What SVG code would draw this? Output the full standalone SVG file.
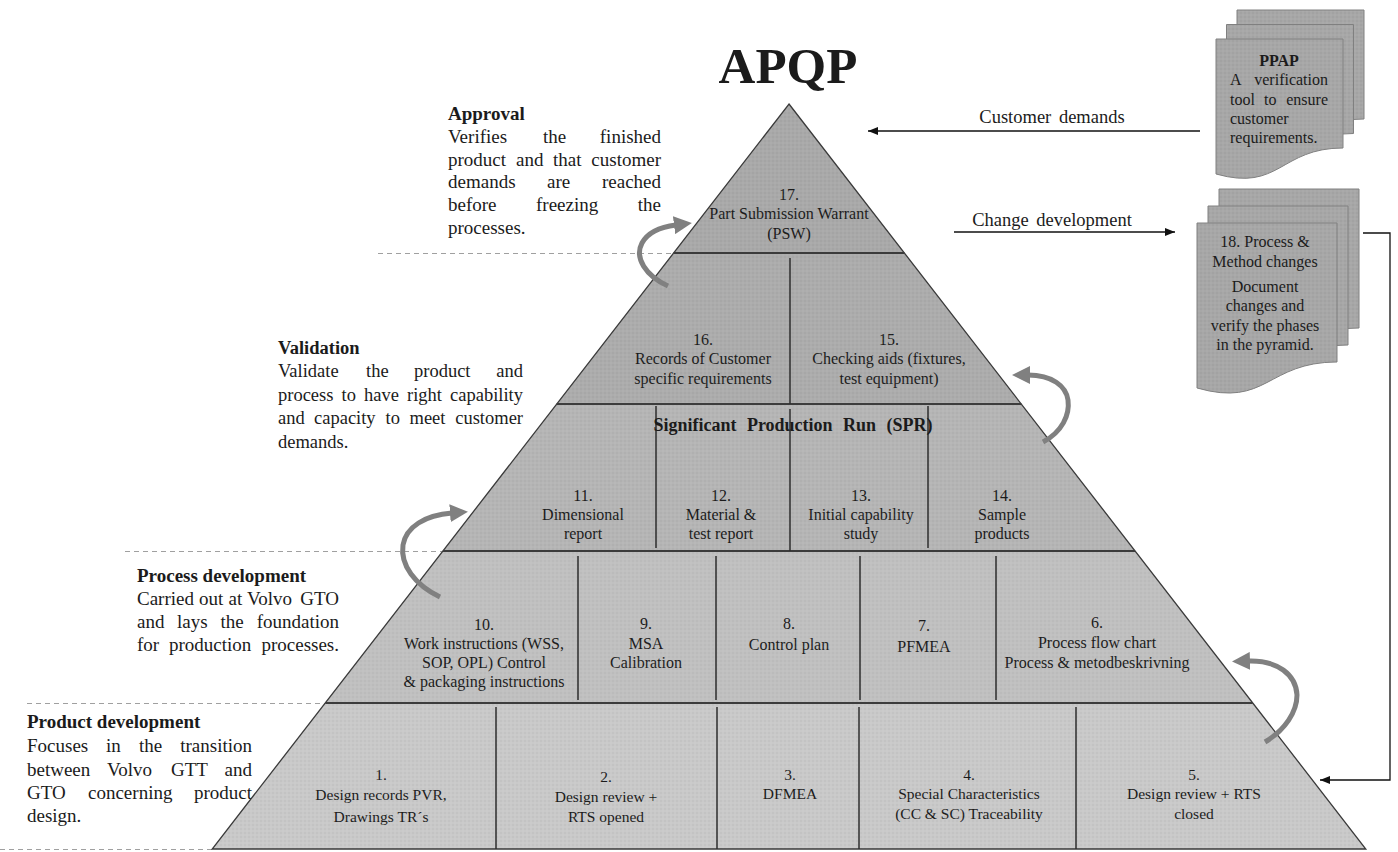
<svg xmlns="http://www.w3.org/2000/svg" width="1398" height="852" viewBox="0 0 1398 852">
  <defs>
    <style>
      .t { font-family: "Liberation Serif", "Times New Roman", serif; fill: #1b1b1b; }
      .cell { font-size: 16px; text-anchor: middle; }
      .cellS { font-size: 15.5px; text-anchor: middle; }
      .body { font-size: 19px; }
      .bodyV { font-size: 18.5px; }
      .head { font-size: 19px; font-weight: bold; }
      .end { text-anchor: end; }
      .mid { text-anchor: middle; }
      .doc { font-size: 16px; }
      .lbl { font-size: 18.5px; text-anchor: middle; word-spacing: 3px; }
      .r1 { fill: #a9a9a9; }
      .r2 { fill: #acacac; }
      .r3 { fill: #b5b5b5; }
      .r4 { fill: #c0c0c0; }
      .r5 { fill: #c9c9c9; }
      .page { fill: url(#pageFill); stroke: #808080; stroke-width: 1; }
      .guide { stroke: #a0a0a0; stroke-width: 1; stroke-dasharray: 5 4; fill: none; }
      .rowline { stroke: #3c3c3c; stroke-width: 2; }
      .divider { stroke: #2e2e2e; stroke-width: 1.5; }
      .loop { fill: none; stroke: #808080; stroke-width: 5; marker-end: url(#loopHead); }
      .flow { fill: none; stroke: #111; stroke-width: 1.3; marker-end: url(#flowHead); }
    </style>
    <!-- fine woven grain used on the shaded fills -->
    <pattern id="grain" width="4" height="4" patternUnits="userSpaceOnUse">
      <circle cx="1" cy="1" r="0.7" fill="#000" opacity="0.07"/>
      <circle cx="3" cy="3" r="0.7" fill="#fff" opacity="0.09"/>
    </pattern>
    <pattern id="pageFill" width="4" height="4" patternUnits="userSpaceOnUse">
      <rect width="4" height="4" fill="#a7a7a7"/>
      <circle cx="1" cy="1" r="0.7" fill="#000" opacity="0.07"/>
      <circle cx="3" cy="3" r="0.7" fill="#fff" opacity="0.09"/>
    </pattern>
    <marker id="loopHead" markerUnits="userSpaceOnUse" viewBox="0 0 18 18" markerWidth="18" markerHeight="18" refX="2" refY="9" orient="auto">
      <path d="M0,0 L18,9 L0,18 Z" fill="#808080"/>
    </marker>
    <marker id="flowHead" markerUnits="userSpaceOnUse" viewBox="0 0 10 8" markerWidth="10" markerHeight="8" refX="10" refY="4" orient="auto">
      <path d="M0,0 L10,4 L0,8 Z" fill="#111"/>
    </marker>
  </defs>

  <rect width="1398" height="852" fill="#ffffff"/>

  <!-- phase separators -->
  <g id="guides">
    <path class="guide" d="M378,253.5 H673"/>
    <path class="guide" d="M125,551.5 H443"/>
    <path class="guide" d="M27,703.5 H325"/>
    <path class="guide" d="M0,849.5 H212"/>
  </g>

  <g id="title">
    <text class="t mid" x="788" y="83" font-size="51" font-weight="bold" fill="#000">APQP</text>
  </g>

  <!-- phase descriptions -->
  <g id="phase-approval" class="t body">
    <text class="head" x="448" y="120">Approval</text>
    <text y="143"><tspan x="448">Verifies</tspan><tspan x="543">the</tspan><tspan x="661" class="end">finished</tspan></text>
    <text y="166"><tspan x="448">product</tspan><tspan x="516">and</tspan><tspan x="553">that</tspan><tspan x="661" class="end">customer</tspan></text>
    <text y="188"><tspan x="448">demands</tspan><tspan x="547">are</tspan><tspan x="661" class="end">reached</tspan></text>
    <text y="211"><tspan x="448">before</tspan><tspan x="536">freezing</tspan><tspan x="661" class="end">the</tspan></text>
    <text x="448" y="234">processes.</text>
  </g>

  <g id="phase-validation" class="t bodyV">
    <text x="278" y="354" font-weight="bold">Validation</text>
    <text y="377"><tspan x="278">Validate</tspan><tspan x="366">the</tspan><tspan x="414">product</tspan><tspan x="523" class="end">and</tspan></text>
    <text y="401"><tspan x="278">process</tspan><tspan x="341.6">to</tspan><tspan x="364">have</tspan><tspan x="407">right</tspan><tspan x="523" class="end">capability</tspan></text>
    <text y="424"><tspan x="278">and</tspan><tspan x="314">capacity</tspan><tspan x="385.5">to</tspan><tspan x="409.5">meet</tspan><tspan x="523" class="end">customer</tspan></text>
    <text x="278" y="448">demands.</text>
  </g>

  <g id="phase-process" class="t body">
    <text class="head" x="137" y="582">Process development</text>
    <text y="605"><tspan x="137">Carried</tspan><tspan x="199">out</tspan><tspan x="228.5">at</tspan><tspan x="247">Volvo</tspan><tspan x="339" class="end">GTO</tspan></text>
    <text y="628"><tspan x="137">and</tspan><tspan x="177">lays</tspan><tspan x="220.5">the</tspan><tspan x="339" class="end">foundation</tspan></text>
    <text y="651"><tspan x="137">for</tspan><tspan x="169">production</tspan><tspan x="339" class="end">processes.</tspan></text>
  </g>

  <g id="phase-product" class="t body">
    <text class="head" x="27" y="728">Product development</text>
    <text y="752"><tspan x="27">Focuses</tspan><tspan x="106">in</tspan><tspan x="139">the</tspan><tspan x="252" class="end">transition</tspan></text>
    <text y="776"><tspan x="27">between</tspan><tspan x="107">Volvo</tspan><tspan x="171">GTT</tspan><tspan x="252" class="end">and</tspan></text>
    <text y="799"><tspan x="27">GTO</tspan><tspan x="88">concerning</tspan><tspan x="252" class="end">product</tspan></text>
    <text x="27" y="822">design.</text>
  </g>

  <!-- pyramid cells -->
  <g id="pyramid">
    <g id="step-17">
      <polygon class="r1" points="789,104 904.4,253 673.6,253"/>
      <text class="t cell"><tspan x="789" y="200">17.</tspan><tspan x="789" y="219">Part Submission Warrant</tspan><tspan x="789" y="239">(PSW)</tspan></text>
    </g>
    <g id="step-16">
      <polygon class="r2" points="673.6,253 790,253 790,404 556.7,404"/>
      <text class="t cell"><tspan x="703" y="345">16.</tspan><tspan x="703" y="364">Records of Customer</tspan><tspan x="703" y="384">specific requirements</tspan></text>
    </g>
    <g id="step-15">
      <polygon class="r2" points="790,253 904.4,253 1021.3,404 790,404"/>
      <text class="t cell"><tspan x="889" y="345">15.</tspan><tspan x="889" y="364">Checking aids (fixtures,</tspan><tspan x="889" y="384">test equipment)</tspan></text>
    </g>
    <g id="step-11">
      <polygon class="r3" points="556.7,404 656,404 656,551 442.9,551"/>
      <text class="t cell"><tspan x="583" y="501">11.</tspan><tspan x="583" y="520">Dimensional</tspan><tspan x="583" y="539">report</tspan></text>
    </g>
    <g id="step-12">
      <polygon class="r3" points="656,404 790,404 790,551 656,551"/>
      <text class="t cell"><tspan x="721" y="501">12.</tspan><tspan x="721" y="520">Material &amp;</tspan><tspan x="721" y="539">test report</tspan></text>
    </g>
    <g id="step-13">
      <polygon class="r3" points="790,404 928,404 928,551 790,551"/>
      <text class="t cell"><tspan x="861" y="501">13.</tspan><tspan x="861" y="520">Initial capability</tspan><tspan x="861" y="539">study</tspan></text>
    </g>
    <g id="step-14">
      <polygon class="r3" points="928,404 1021.3,404 1135.1,551 928,551"/>
      <text class="t cell"><tspan x="1002" y="501">14.</tspan><tspan x="1002" y="520">Sample</tspan><tspan x="1002" y="539">products</tspan></text>
    </g>
    <g id="step-10">
      <polygon class="r4" points="442.9,551 578,551 578,703 325.3,703"/>
      <text class="t cell"><tspan x="484" y="630">10.</tspan><tspan x="484" y="649">Work instructions (WSS,</tspan><tspan x="484" y="668">SOP, OPL) Control</tspan><tspan x="484" y="687">&amp; packaging instructions</tspan></text>
    </g>
    <g id="step-9">
      <polygon class="r4" points="578,551 716,551 716,703 578,703"/>
      <text class="t cell"><tspan x="646" y="629">9.</tspan><tspan x="646" y="649">MSA</tspan><tspan x="646" y="668">Calibration</tspan></text>
    </g>
    <g id="step-8">
      <polygon class="r4" points="716,551 860,551 860,703 716,703"/>
      <text class="t cell"><tspan x="789" y="629">8.</tspan><tspan x="789" y="650">Control plan</tspan></text>
    </g>
    <g id="step-7">
      <polygon class="r4" points="860,551 996,551 996,703 860,703"/>
      <text class="t cell"><tspan x="924" y="631">7.</tspan><tspan x="924" y="652">PFMEA</tspan></text>
    </g>
    <g id="step-6">
      <polygon class="r4" points="996,551 1135.1,551 1252.7,703 996,703"/>
      <text class="t cell"><tspan x="1097" y="628">6.</tspan><tspan x="1097" y="648">Process flow chart</tspan><tspan x="1097" y="668">Process &amp; metodbeskrivning</tspan></text>
    </g>
    <g id="step-1">
      <polygon class="r5" points="325.3,703 496,703 496,849 212.2,849"/>
      <text class="t cellS"><tspan x="381" y="780">1.</tspan><tspan x="381" y="800">Design records PVR,</tspan><tspan x="381" y="822">Drawings TR´s</tspan></text>
    </g>
    <g id="step-2">
      <polygon class="r5" points="496,703 717,703 717,849 496,849"/>
      <text class="t cellS"><tspan x="606" y="782">2.</tspan><tspan x="606" y="802">Design review +</tspan><tspan x="606" y="822">RTS opened</tspan></text>
    </g>
    <g id="step-3">
      <polygon class="r5" points="717,703 859,703 859,849 717,849"/>
      <text class="t cellS"><tspan x="790" y="780">3.</tspan><tspan x="790" y="799">DFMEA</tspan></text>
    </g>
    <g id="step-4">
      <polygon class="r5" points="859,703 1076,703 1076,849 859,849"/>
      <text class="t cellS"><tspan x="969" y="780">4.</tspan><tspan x="969" y="799">Special Characteristics</tspan><tspan x="969" y="819">(CC &amp; SC) Traceability</tspan></text>
    </g>
    <g id="step-5">
      <polygon class="r5" points="1076,703 1252.7,703 1365.8,849 1076,849"/>
      <text class="t cellS"><tspan x="1194" y="780">5.</tspan><tspan x="1194" y="799">Design review + RTS</tspan><tspan x="1194" y="819">closed</tspan></text>
    </g>
  </g>

  <!-- pyramid grain, outline, tier lines and cell dividers -->
  <g id="grid">
    <polygon points="789,104 1365.8,849 212.2,849" fill="url(#grain)"/>
    <polygon points="789,104 1365.8,849 212.2,849" fill="none" stroke="#3a3a3a" stroke-width="1.3"/>
    <line class="rowline" x1="673.6" y1="253" x2="904.4" y2="253"/>
    <line class="rowline" x1="556.7" y1="404" x2="1021.3" y2="404"/>
    <line class="rowline" x1="442.9" y1="551" x2="1135.1" y2="551"/>
    <line class="rowline" x1="325.3" y1="703" x2="1252.7" y2="703"/>
    <line class="divider" x1="790" y1="258" x2="790" y2="404"/>
    <line class="divider" x1="656" y1="406" x2="656" y2="548"/>
    <line class="divider" x1="790" y1="409" x2="790" y2="551"/>
    <line class="divider" x1="928" y1="406" x2="928" y2="548"/>
    <line class="divider" x1="578" y1="556" x2="578" y2="700"/>
    <line class="divider" x1="716" y1="556" x2="716" y2="700"/>
    <line class="divider" x1="860" y1="556" x2="860" y2="700"/>
    <line class="divider" x1="996" y1="556" x2="996" y2="700"/>
    <line class="divider" x1="496" y1="707" x2="496" y2="849"/>
    <line class="divider" x1="717" y1="707" x2="717" y2="849"/>
    <line class="divider" x1="859" y1="707" x2="859" y2="849"/>
    <line class="divider" x1="1076" y1="707" x2="1076" y2="849"/>
  </g>

  <g id="spr-run">
    <text class="t mid" x="793" y="431" font-size="18" font-weight="bold" word-spacing="6">Significant Production Run (SPR)</text>
  </g>

  <!-- stacked documents -->
  <g id="doc-ppap">
    <path class="page" d="M1237,10 H1364 V119 C1301,119 1301,163 1237,145 Z"/>
    <path class="page" d="M1226.5,24.5 H1353.5 V133.5 C1290.5,133.5 1290.5,177.5 1226.5,159.5 Z"/>
    <path class="page" d="M1216,39 H1343 V148 C1280,148 1280,192 1216,174 Z"/>
    <text class="t doc mid" x="1279" y="66" font-weight="bold">PPAP</text>
    <text class="t doc" y="85"><tspan x="1230">A</tspan><tspan x="1328" class="end">verification</tspan></text>
    <text class="t doc" y="105"><tspan x="1230">tool</tspan><tspan x="1264">to</tspan><tspan x="1328" class="end">ensure</tspan></text>
    <text class="t doc" x="1230" y="124">customer</text>
    <text class="t doc" x="1230" y="143">requirements.</text>
  </g>

  <g id="doc-18">
    <path class="page" d="M1219,189 H1359 V328 C1289,328 1289,374 1219,354 Z"/>
    <path class="page" d="M1208,206 H1348 V345 C1278,345 1278,391 1208,371 Z"/>
    <path class="page" d="M1197,223 H1337 V362 C1267,362 1267,408 1197,388 Z"/>
    <text class="t doc mid"><tspan x="1265" y="247">18.  Process &amp;</tspan><tspan x="1265" y="267">Method changes</tspan><tspan x="1265" y="292">Document</tspan><tspan x="1265" y="311">changes and</tspan><tspan x="1265" y="331">verify the phases</tspan><tspan x="1265" y="350">in the pyramid.</tspan></text>
  </g>

  <!-- connectors -->
  <g id="connectors">
    <path class="flow" d="M1200,131 H868"/>
    <text class="t lbl" x="1052" y="123">Customer demands</text>
    <path class="flow" d="M954,232 H1175"/>
    <text class="t lbl" x="1052" y="226">Change development</text>
    <path class="flow" d="M1363,233 H1390 V780 H1320"/>
    <path class="loop" d="M668,286 C646,276 634,258 642,243 C648,232 660,227 676,225"/>
    <path class="loop" d="M440,597 C415,585 400,565 403,545 C406,527 425,515 452,513"/>
    <path class="loop" d="M1043,442 C1062,432 1070,415 1068,400 C1066,386 1052,375 1028,375"/>
    <path class="loop" d="M1265,742 C1285,730 1297,712 1297,695 C1296,675 1278,660 1248,661"/>
  </g>
</svg>
